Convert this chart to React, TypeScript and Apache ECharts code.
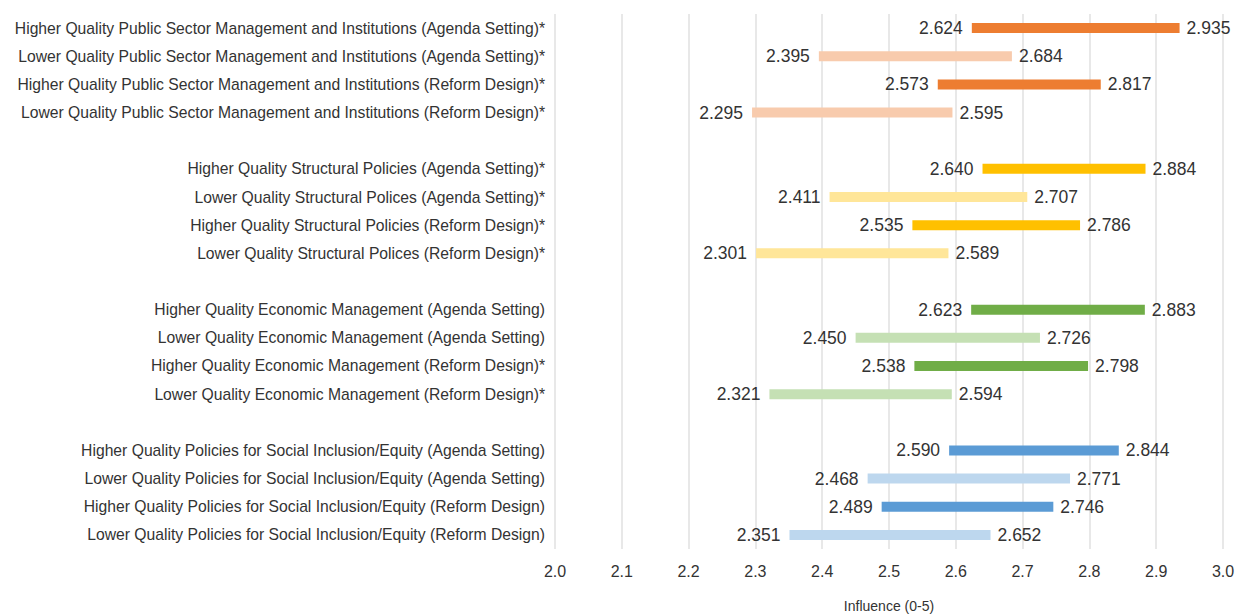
import React, { useEffect, useRef } from "react";
import * as echarts from "echarts";

const categories = [
  "Higher Quality Public Sector Management and Institutions (Agenda Setting)*",
  "Lower Quality Public Sector Management and Institutions (Agenda Setting)*",
  "Higher Quality Public Sector Management and Institutions (Reform Design)*",
  "Lower Quality Public Sector Management and Institutions (Reform Design)*",
  "",
  "Higher Quality Structural Policies (Agenda Setting)*",
  "Lower Quality Structural Polices (Agenda Setting)*",
  "Higher Quality Structural Policies (Reform Design)*",
  "Lower Quality Structural Polices (Reform Design)*",
  " ",
  "Higher Quality Economic Management (Agenda Setting)",
  "Lower Quality Economic Management (Agenda Setting)",
  "Higher Quality Economic Management (Reform Design)*",
  "Lower Quality Economic Management (Reform Design)*",
  "  ",
  "Higher Quality Policies for Social Inclusion/Equity (Agenda Setting)",
  "Lower Quality Policies for Social Inclusion/Equity (Agenda Setting)",
  "Higher Quality Policies for Social Inclusion/Equity (Reform Design)",
  "Lower Quality Policies for Social Inclusion/Equity (Reform Design)",
];

const lowValues = [
  2.624, 2.395, 2.573, 2.295, null,
  2.64, 2.411, 2.535, 2.301, null,
  2.623, 2.45, 2.538, 2.321, null,
  2.59, 2.468, 2.489, 2.351,
];

const highValues = [
  2.935, 2.684, 2.817, 2.595, null,
  2.884, 2.707, 2.786, 2.589, null,
  2.883, 2.726, 2.798, 2.594, null,
  2.844, 2.771, 2.746, 2.652,
];

const rowColors = [
  "#ED7D31", "#F8CBAD", "#ED7D31", "#F8CBAD", "",
  "#FFC000", "#FFE699", "#FFC000", "#FFE699", "",
  "#70AD47", "#C5E0B4", "#70AD47", "#C5E0B4", "",
  "#5B9BD5", "#BDD7EE", "#5B9BD5", "#BDD7EE",
];

const xTicks = { min: 2.0, max: 3.0, interval: 0.1 };
const axisName = "Influence (0-5)";

const FONT = "'Liberation Sans', Arial, Helvetica, sans-serif";

export default function App() {
  const ref = useRef<HTMLDivElement>(null);

  useEffect(() => {
    if (!ref.current) return;
    const chart = echarts.init(ref.current, undefined, { renderer: "svg" });

    const data: any[] = [];
    categories.forEach((_, i) => {
      if (lowValues[i] != null && highValues[i] != null) {
        data.push({ value: [i, lowValues[i], highValues[i]], itemStyle: { color: rowColors[i] } });
      }
    });

    chart.setOption({
      animation: false,
      backgroundColor: "#ffffff",
      grid: {
        left: 555,
        right: 16,
        top: 14,
        bottom: 65,
        containLabel: false,
        outerBoundsMode: "none",
      },
      xAxis: {
        type: "value",
        min: xTicks.min,
        max: xTicks.max,
        interval: xTicks.interval,
        name: axisName,
        nameLocation: "middle",
        nameGap: 50,
        nameTextStyle: { fontFamily: FONT, fontSize: 14, color: "#333333" },
        axisLine: { show: false },
        axisTick: { show: false },
        axisLabel: {
          fontFamily: FONT,
          fontSize: 16,
          color: "#333333",
          margin: 14,
          formatter: (v: number) => v.toFixed(1),
        },
        splitLine: { show: true, lineStyle: { color: "#e0e0e0", width: 1.5 } },
      },
      yAxis: {
        type: "category",
        data: categories,
        inverse: true,
        axisLine: { show: false },
        axisTick: { show: false },
        splitLine: { show: false },
        axisLabel: {
          fontFamily: FONT,
          fontSize: 15.7,
          color: "#333333",
          margin: 10,
        },
      },
      series: [
        {
          type: "custom",
          encode: { x: [1, 2], y: 0 },
          data,
          renderItem: (params: any, api: any) => {
            const idx = api.value(0);
            const lo = api.value(1);
            const hi = api.value(2);
            const p1 = api.coord([lo, idx]);
            const p2 = api.coord([hi, idx]);
            const color = api.visual("color");
            const h = 10;
            return {
              type: "group",
              children: [
                {
                  type: "rect",
                  shape: { x: p1[0], y: p1[1] - h / 2, width: p2[0] - p1[0], height: h },
                  style: { fill: color },
                },
                {
                  type: "text",
                  style: {
                    text: lo.toFixed(3),
                    x: p1[0] - 9,
                    y: p1[1],
                    align: "right",
                    verticalAlign: "middle",
                    fill: "#333333",
                    fontFamily: FONT,
                    fontSize: 17.5,
                  },
                },
                {
                  type: "text",
                  style: {
                    text: hi.toFixed(3),
                    x: p2[0] + 7,
                    y: p2[1],
                    align: "left",
                    verticalAlign: "middle",
                    fill: "#333333",
                    fontFamily: FONT,
                    fontSize: 17.5,
                  },
                },
              ],
            };
          },
        },
      ],
    });

    return () => chart.dispose();
  }, []);

  return (
    <div
      ref={ref}
      style={{ position: "fixed", left: 0, top: 0, width: 1239, height: 614, background: "#fff" }}
    />
  );
}
